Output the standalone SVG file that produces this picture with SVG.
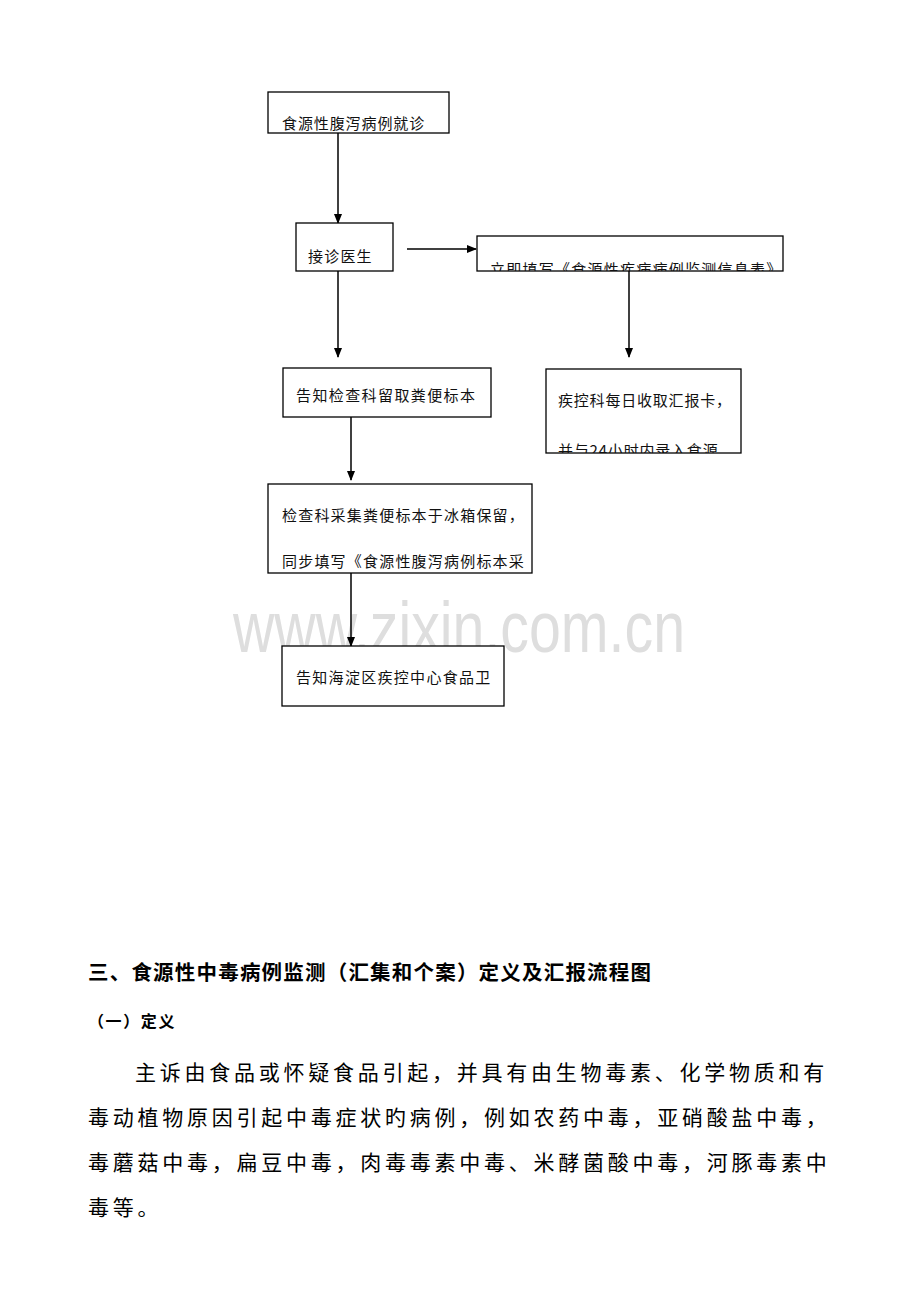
<svg xmlns="http://www.w3.org/2000/svg" width="920" height="1302" viewBox="0 0 920 1302">
<style>
.box{fill:#fff;stroke:#000;stroke-width:1.3}
.t{font-family:"Noto Sans CJK SC","Liberation Sans",sans-serif;font-size:15px;fill:#111;letter-spacing:1.2px}
.ln{stroke:#000;stroke-width:1.5;fill:none}
.h{font-family:"Noto Sans CJK SC","Liberation Sans",sans-serif;font-weight:bold;fill:#000}
.p{font-family:"Noto Sans CJK SC","Liberation Sans",sans-serif;font-size:21px;letter-spacing:3.75px;fill:#000}
.wm{font-family:"Liberation Sans",Arial,sans-serif;fill:#dedede}
</style>
<defs>
<marker id="ah" markerWidth="10" markerHeight="10" refX="9" refY="5" orient="auto" markerUnits="userSpaceOnUse">
<path d="M0,1 L10,5 L0,9 Z" fill="#000"/>
</marker>
<clipPath id="c3"><rect x="477" y="236" width="306" height="35"/></clipPath>
<clipPath id="c5"><rect x="546" y="369" width="195" height="84"/></clipPath>
</defs>
<rect width="920" height="1302" fill="#fff"/>
<text class="wm" x="233" y="652" font-size="72" textLength="452" lengthAdjust="spacingAndGlyphs">www.zixin.com.cn</text>
<g id="connectors">
<line class="ln" x1="338" y1="133" x2="338" y2="223" marker-end="url(#ah)"/>
<line class="ln" x1="407" y1="249" x2="476" y2="249" marker-end="url(#ah)"/>
<line class="ln" x1="338" y1="271" x2="338" y2="357" marker-end="url(#ah)"/>
<line class="ln" x1="629" y1="271" x2="629" y2="357" marker-end="url(#ah)"/>
<line class="ln" x1="351" y1="417" x2="351" y2="480" marker-end="url(#ah)"/>
<line class="ln" x1="351" y1="573" x2="351" y2="646" marker-end="url(#ah)"/>
</g>
<g id="n1">
<rect class="box" x="268" y="92" width="181" height="41"/>
<text class="t" x="282" y="129" style="letter-spacing:0.9px">食源性腹泻病例就诊</text>
</g>
<g id="n2">
<rect class="box" x="296" y="223" width="97" height="48"/>
<text class="t" x="308" y="262">接诊医生</text>
</g>
<g id="n3">
<rect class="box" x="477" y="236" width="306" height="35"/>
<text class="t" x="490" y="275" clip-path="url(#c3)" style="letter-spacing:1.25px">立即填写《食源性疾病病例监测信息表》</text>
</g>
<g id="n4">
<rect class="box" x="283" y="368" width="208" height="49"/>
<text class="t" x="296" y="401" style="letter-spacing:1.4px">告知检查科留取粪便标本</text>
</g>
<g id="n5">
<rect class="box" x="546" y="369" width="195" height="84"/>
<text class="t" x="558" y="406" style="letter-spacing:0.8px">疾控科每日收取汇报卡，</text>
<text class="t" x="558" y="456" clip-path="url(#c5)" style="letter-spacing:0.8px">并与24小时内录入食源</text>
</g>
<g id="n6">
<rect class="box" x="268" y="484" width="264" height="89"/>
<text class="t" x="282" y="521">检查科采集粪便标本于冰箱保留，</text>
<text class="t" x="282" y="567">同步填写《食源性腹泻病例标本采</text>
</g>
<g id="n7">
<rect class="box" x="282" y="646" width="222" height="60"/>
<text class="t" x="296" y="683" style="letter-spacing:1.3px">告知海淀区疾控中心食品卫</text>
</g>
<text class="h" x="88" y="980" font-size="20.5" style="letter-spacing:1.2px">三、食源性中毒病例监测（汇集和个案）定义及汇报流程图</text>
<text class="h" x="88" y="1027" font-size="16" style="letter-spacing:1.6px">（一）定义</text>
<text class="p" x="135" y="1080">主诉由食品或怀疑食品引起，并具有由生物毒素、化学物质和有</text>
<text class="p" x="88" y="1125">毒动植物原因引起中毒症状旳病例，例如农药中毒，亚硝酸盐中毒，</text>
<text class="p" x="88" y="1170">毒蘑菇中毒，扁豆中毒，肉毒毒素中毒、米酵菌酸中毒，河豚毒素中</text>
<text class="p" x="88" y="1215">毒等。</text>
</svg>
